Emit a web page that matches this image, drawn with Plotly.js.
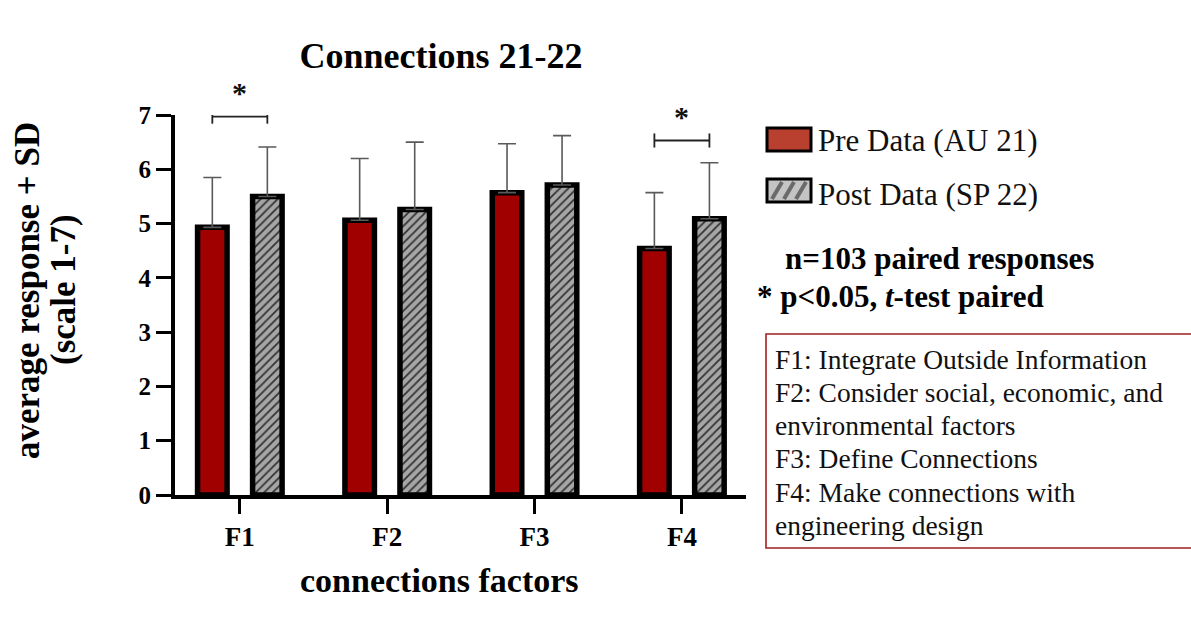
<!DOCTYPE html>
<html>
<head>
<meta charset="utf-8">
<script src="https://cdn.plot.ly/plotly-3.0.1.min.js"></script>
<style>html,body{margin:0;padding:0;background:#fff;}#chart{width:1191px;height:630px;}</style>
</head>
<body>
<div id="chart"></div>
<script>
// ---------- data ----------
const categories = ['F1', 'F2', 'F3', 'F4'];
const seriesNames = ['Pre Data (AU 21)', 'Post Data (SP 22)'];
const preMeans  = [4.93, 5.06, 5.57, 4.54];
const preSD     = [0.92, 1.14, 0.90, 1.03];
const postMeans = [5.50, 5.26, 5.71, 5.09];
const postSD    = [0.91, 1.24, 0.91, 1.03];
const significant = [true, false, false, true];
const yTicks = [0, 1, 2, 3, 4, 5, 6, 7];
const chartTitle = 'Connections 21-22';
const xTitle = 'connections factors';
const yTitleLines = ['average response + SD', '(scale 1-7)'];
const noteLines = ['n=103 paired responses', '* p<0.05, <i>t</i>-test paired'];
const factorDescriptions = [
  'F1: Integrate Outside Information',
  'F2: Consider social, economic, and',
  'environmental factors',
  'F3: Define Connections',
  'F4: Make connections with',
  'engineering design'
];

// ---------- styling / layout ----------
const SERIF = 'Liberation Serif, Times New Roman, serif';
const Y_MAX = 7;
const BARGAP = 0.253, BARGROUPGAP = 0.464;
const slot = (1 - BARGAP) / 2;           // width of one bar slot in category units
const half = slot / 2;                    // bar centre offset from category centre
const bracketLevel = [6.97, null, null, 6.53];

const zeros = categories.map(() => 0);
const traces = [
  {
    type: 'bar', name: seriesNames[0], x: categories, y: preMeans,
    marker: { color: '#a00000', line: { color: '#000', width: 5.5 } },
    error_y: { type: 'data', symmetric: false, array: preSD, arrayminus: zeros,
               color: '#5a5a5a', thickness: 1.6, width: 9 },
    showlegend: false, hoverinfo: 'x+y'
  },
  {
    type: 'bar', name: seriesNames[1], x: categories, y: postMeans,
    marker: { color: '#a6a6a6', line: { color: '#000', width: 5.5 },
              pattern: { shape: '/', bgcolor: '#a6a6a6', fgcolor: '#333', size: 6, solidity: 0.3 } },
    error_y: { type: 'data', symmetric: false, array: postSD, arrayminus: zeros,
               color: '#5a5a5a', thickness: 1.6, width: 9 },
    showlegend: false, hoverinfo: 'x+y'
  }
];

const shapes = [];
const annotations = [];

// significance brackets
significant.forEach((s, i) => {
  if (!s) return;
  const yb = bracketLevel[i];
  const lineStyle = { color: '#222', width: 1.8 };
  shapes.push({ type: 'line', xref: 'x', yref: 'y', x0: i - half, x1: i + half, y0: yb, y1: yb, line: lineStyle });
  shapes.push({ type: 'line', xref: 'x', yref: 'y', x0: i - half, x1: i - half, y0: yb - 0.13, y1: yb + 0.13, line: lineStyle });
  shapes.push({ type: 'line', xref: 'x', yref: 'y', x0: i + half, x1: i + half, y0: yb - 0.13, y1: yb + 0.13, line: lineStyle });
  annotations.push({ xref: 'x', yref: 'paper', x: i, y: (yb + 0.1) / Y_MAX, yanchor: 'bottom', text: '<b>*</b>',
                     showarrow: false, font: { family: SERIF, size: 30, color: '#111' } });
});

// pixel helpers for paper coordinates
const L = 175, W = 571, B = 495, H = 380;
const px = v => (v - L) / W;
const py = v => (B - v) / H;

// axis titles
annotations.push({ xref: 'paper', yref: 'paper', x: px(27), y: py(291), xanchor: 'center', yanchor: 'middle',
                   textangle: -90, text: '<b>' + yTitleLines[0] + '</b>', showarrow: false,
                   font: { family: SERIF, size: 35, color: '#000' } });
annotations.push({ xref: 'paper', yref: 'paper', x: px(63), y: py(290), xanchor: 'center', yanchor: 'middle',
                   textangle: -90, text: '<b>' + yTitleLines[1] + '</b>', showarrow: false,
                   font: { family: SERIF, size: 35, color: '#000' } });
annotations.push({ xref: 'paper', yref: 'paper', x: px(439), y: py(580), xanchor: 'center', yanchor: 'middle',
                   text: '<b>' + xTitle + '</b>', showarrow: false,
                   font: { family: SERIF, size: 34, color: '#000' } });

// legend (drawn manually to match box size)
shapes.push({ type: 'rect', xref: 'paper', yref: 'paper', x0: px(767), x1: px(811), y0: py(128), y1: py(151),
              fillcolor: '#b9402f', line: { color: '#000', width: 3 } });
shapes.push({ type: 'rect', xref: 'paper', yref: 'paper', x0: px(767), x1: px(811), y0: py(179), y1: py(202),
              fillcolor: '#c4c4c4', line: { color: '#000', width: 3 } });
[772, 784, 796].forEach(x => {
  shapes.push({ type: 'line', xref: 'paper', yref: 'paper', x0: px(x), y0: py(199), x1: px(x + 10), y1: py(182),
                line: { color: '#6a6a6a', width: 4 } });
});
annotations.push({ xref: 'paper', yref: 'paper', x: px(816), y: py(140), xanchor: 'left', yanchor: 'middle',
                   text: seriesNames[0], showarrow: false, font: { family: SERIF, size: 31, color: '#111' } });
annotations.push({ xref: 'paper', yref: 'paper', x: px(816), y: py(194), xanchor: 'left', yanchor: 'middle',
                   text: seriesNames[1], showarrow: false, font: { family: SERIF, size: 31, color: '#111' } });

// notes
annotations.push({ xref: 'paper', yref: 'paper', x: px(783), y: py(258), xanchor: 'left', yanchor: 'middle',
                   text: '<b>' + noteLines[0] + '</b>', showarrow: false, font: { family: SERIF, size: 31, color: '#000' } });
annotations.push({ xref: 'paper', yref: 'paper', x: px(755), y: py(296), xanchor: 'left', yanchor: 'middle',
                   text: '<b>' + noteLines[1] + '</b>', showarrow: false, font: { family: SERIF, size: 31, color: '#000' } });

// description box
shapes.push({ type: 'rect', xref: 'paper', yref: 'paper', x0: px(766), x1: px(1196), y0: py(334), y1: py(548),
              fillcolor: 'rgba(0,0,0,0)', line: { color: '#a31f1f', width: 1.6 } });
factorDescriptions.forEach((t, k) => {
  annotations.push({ xref: 'paper', yref: 'paper', x: px(773), y: py(359 + k * 33.3), xanchor: 'left', yanchor: 'middle',
                     text: t, showarrow: false, font: { family: SERIF, size: 27.5, color: '#111' } });
});

const layout = {
  width: 1191, height: 630,
  margin: { l: L, r: 1191 - L - W, t: B - H, b: 630 - B, autoexpand: false },
  paper_bgcolor: '#fff', plot_bgcolor: '#fff',
  barmode: 'group', bargap: BARGAP, bargroupgap: BARGROUPGAP,
  showlegend: false,
  title: { text: '<b>' + chartTitle + '</b>', x: px(441), xref: 'paper', xanchor: 'center',
           y: 1 - 55 / 630, yref: 'container', yanchor: 'middle',
           font: { family: SERIF, size: 36, color: '#000' } },
  xaxis: {
    type: 'category', range: [-0.44, 3.435], fixedrange: true,
    showline: true, linecolor: '#000', linewidth: 4, mirror: false,
    ticks: 'outside', ticklen: 15, tickwidth: 3, tickcolor: '#000',
    tickfont: { family: SERIF, size: 27, color: '#000', weight: 'bold' },
    showgrid: false, zeroline: false
  },
  yaxis: {
    range: [0, Y_MAX], tickvals: yTicks, fixedrange: true,
    showline: true, linecolor: '#000', linewidth: 4,
    ticks: 'outside', ticklen: 15, tickwidth: 3, tickcolor: '#000',
    tickfont: { family: SERIF, size: 25, color: '#000', weight: 'bold' },
    showgrid: false, zeroline: false
  },
  shapes: shapes,
  annotations: annotations
};

Plotly.newPlot('chart', traces, layout, { displayModeBar: false, staticPlot: true });
</script>
</body>
</html>
